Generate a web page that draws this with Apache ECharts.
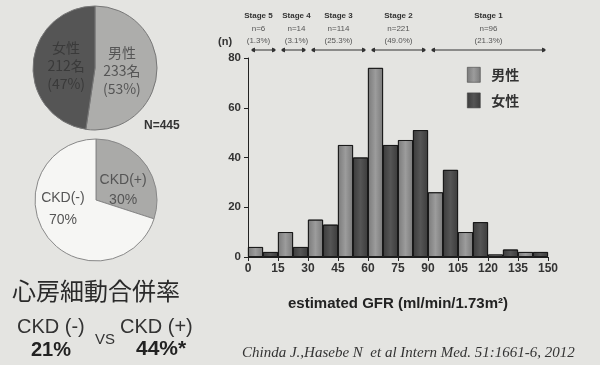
<!DOCTYPE html>
<html>
<head>
<meta charset="utf-8">
<script src="https://cdn.jsdelivr.net/npm/echarts@6/dist/echarts.min.js"></script>
<style>
html, body { margin: 0; padding: 0; background: #e4e4e1; }
#chart { width: 600px; height: 365px; }
</style>
</head>
<body>
<div id="chart"></div>
<script>
// eGFR histogram, bins of 15, male / female counts
var binStarts = [0, 15, 30, 45, 60, 75, 90, 105, 120, 135];
var maleCounts = [4, 10, 15, 45, 76, 47, 26, 10, 1, 2];
var femaleCounts = [2, 4, 13, 40, 45, 51, 35, 14, 3, 2];
var xTicks = [0, 15, 30, 45, 60, 75, 90, 105, 120, 135, 150];
var yTicks = [0, 20, 40, 60, 80];

var stageNames = ['Stage 5', 'Stage 4', 'Stage 3', 'Stage 2', 'Stage 1'];
var stageN = ['n=6', 'n=14', 'n=114', 'n=221', 'n=96'];
var stagePct = ['(1.3%)', '(3.1%)', '(25.3%)', '(49.0%)', '(21.3%)'];
var stageFrom = [0, 15, 30, 60, 90];
var stageTo = [15, 30, 60, 90, 150];

var sexNames = ['男性', '女性'];
var sexCounts = [233, 212];
var sexPct = ['53%', '47%'];
var ckdNames = ['CKD(+)', 'CKD(-)'];
var ckdPct = [30, 70];

var sansFont = '"Liberation Sans", Arial, sans-serif';
var cjkFont = '"Noto Sans CJK JP", sans-serif';

var maleColor = new echarts.graphic.LinearGradient(0, 0, 1, 0, [
    {offset: 0, color: '#7a7a7a'},
    {offset: 0.5, color: '#9c9c9c'},
    {offset: 1, color: '#7a7a7a'}
]);
var femaleColor = new echarts.graphic.LinearGradient(0, 0, 1, 0, [
    {offset: 0, color: '#3c3c3c'},
    {offset: 0.5, color: '#555555'},
    {offset: 1, color: '#3c3c3c'}
]);

var halfBin = 7.5;

var option = {
    backgroundColor: '#e4e4e1',
    animation: false,
    legend: {
        data: sexNames,
        orient: 'vertical',
        left: 462,
        top: 62,
        itemWidth: 13,
        itemHeight: 15,
        itemGap: 10,
        icon: 'rect',
        itemStyle: {borderColor: '#444', borderWidth: 0.6},
        textStyle: {fontFamily: cjkFont, fontSize: 14, fontWeight: 'bold', color: '#333', padding: [0, 0, 0, 6]}
    },
    grid: {left: 248, right: 52, top: 58, bottom: 108},
    xAxis: {
        type: 'value',
        min: xTicks[0],
        max: xTicks[xTicks.length - 1],
        interval: 15,
        name: 'estimated GFR (ml/min/1.73m²)',
        nameLocation: 'middle',
        nameGap: 39,
        nameTextStyle: {fontFamily: sansFont, fontSize: 15, fontWeight: 'bold', color: '#222'},
        axisLine: {lineStyle: {color: '#222', width: 1}},
        axisTick: {show: true, length: 4, lineStyle: {color: '#222'}},
        axisLabel: {fontFamily: sansFont, fontSize: 12, fontWeight: 'bold', color: '#333', margin: 6},
        splitLine: {show: false}
    },
    yAxis: {
        type: 'value',
        min: yTicks[0],
        max: yTicks[yTicks.length - 1],
        interval: 20,
        axisLine: {show: true, lineStyle: {color: '#222', width: 1}},
        axisTick: {show: true, length: 4, lineStyle: {color: '#222'}},
        axisLabel: {fontFamily: sansFont, fontSize: 11.5, fontWeight: 'bold', color: '#333', margin: 7},
        splitLine: {show: false}
    },
    series: [
        {
            name: sexNames[0],
            type: 'bar',
            barWidth: 15,
            barGap: '-100%',
            itemStyle: {color: maleColor, borderColor: '#111', borderWidth: 0.8},
            data: binStarts.map(function (b, i) { return [b + halfBin / 2, maleCounts[i]]; })
        },
        {
            name: sexNames[1],
            type: 'bar',
            barWidth: 15,
            barGap: '-100%',
            itemStyle: {color: femaleColor, borderColor: '#111', borderWidth: 0.8},
            data: binStarts.map(function (b, i) { return [b + halfBin * 1.5, femaleCounts[i]]; })
        },
        {
            type: 'pie',
            center: [95, 68],
            radius: 62,
            startAngle: 90,
            silent: true,
            itemStyle: {borderColor: '#777', borderWidth: 1},
            label: {
                position: 'inside',
                fontFamily: cjkFont,
                fontSize: 14,
                lineHeight: 18,
                formatter: function (p) {
                    return sexNames[p.dataIndex] + '\n' + sexCounts[p.dataIndex] + '名\n(' + sexPct[p.dataIndex] + ')';
                }
            },
            data: [
                {name: 'm', value: sexCounts[0], itemStyle: {color: '#adadab'},
                    label: {color: '#555', padding: [0, 14, 0, 0]}},
                {name: 'f', value: sexCounts[1], itemStyle: {color: '#555555'},
                    label: {color: '#3a3a3a', padding: [6, 0, 0, 10]}}
            ]
        },
        {
            type: 'pie',
            center: [96, 200],
            radius: 61,
            startAngle: 90,
            silent: true,
            itemStyle: {borderColor: '#888', borderWidth: 1},
            label: {
                position: 'inside',
                fontFamily: sansFont,
                fontSize: 14,
                lineHeight: 20,
                color: '#555'
            },
            data: [
                {name: 'ckdp', value: ckdPct[0], itemStyle: {color: '#aaaaa8'},
                    label: {formatter: function () { return '\n' + ckdNames[0] + '\n' + ckdPct[0] + '%'; }}},
                {name: 'ckdn', value: ckdPct[1], itemStyle: {color: '#f6f6f4'},
                    label: {padding: [0, 12, 0, 0], lineHeight: 22,
                        formatter: function () { return ckdNames[1] + '\n' + ckdPct[1] + '%\n '; }}}
            ]
        }
    ]
};

var chart = echarts.init(document.getElementById('chart'));
chart.setOption(option);

var texts = [
    {type: 'text', left: 218, top: 36, style: {text: '(n)', font: 'bold 11px ' + sansFont, fill: '#333'}},
    {type: 'text', left: 144, top: 120, style: {text: 'N=445', font: 'bold 12px ' + sansFont, fill: '#333'}},
    {type: 'text', left: 12, top: 279, style: {text: '心房細動合併率', font: '24px ' + cjkFont, fill: '#2a2a2a'}},
    {type: 'text', left: 17, top: 317, style: {text: 'CKD (-)', font: '20px ' + sansFont, fill: '#333'}},
    {type: 'text', left: 31, top: 340, style: {text: '21%', font: 'bold 20px ' + sansFont, fill: '#222'}},
    {type: 'text', left: 95, top: 332, style: {text: 'VS', font: '15px ' + sansFont, fill: '#333'}},
    {type: 'text', left: 120, top: 317, style: {text: 'CKD (+)', font: '20px ' + sansFont, fill: '#333'}},
    {type: 'text', left: 136, top: 339, style: {text: '44%*', font: 'bold 21px ' + sansFont, fill: '#222'}},
    {type: 'text', left: 242, top: 346, style: {text: 'Chinda J.,Hasebe N  et al Intern Med. 51:1661-6, 2012', font: 'italic 15px "Liberation Serif", serif', fill: '#333'}}
];

// small nudges so the two narrow stage captions do not collide
var captionShift = [-5, 3, 0, 0, 0];
var lineY = 50;
stageFrom.forEach(function (a, i) {
    var x0 = chart.convertToPixel({xAxisIndex: 0}, a) + 4;
    var x1 = chart.convertToPixel({xAxisIndex: 0}, stageTo[i]) - 3;
    var cx = (x0 + x1) / 2 + captionShift[i];
    texts.push({type: 'line', shape: {x1: x0, y1: lineY, x2: x1, y2: lineY}, style: {stroke: '#333', lineWidth: 1}});
    texts.push({type: 'circle', shape: {cx: x0 + 1.5, cy: lineY, r: 1.8}, style: {fill: '#333'}});
    texts.push({type: 'circle', shape: {cx: x1 - 1.5, cy: lineY, r: 1.8}, style: {fill: '#333'}});
    texts.push({type: 'polygon', shape: {points: [[x1 - 3, lineY - 2.5], [x1 + 1, lineY], [x1 - 3, lineY + 2.5]]}, style: {fill: '#333'}});
    texts.push({type: 'polygon', shape: {points: [[x0 + 3, lineY - 2.5], [x0 - 1, lineY], [x0 + 3, lineY + 2.5]]}, style: {fill: '#333'}});
    texts.push({type: 'text', x: cx, y: 16, style: {text: stageNames[i], font: 'bold 8px ' + sansFont, fill: '#333', textAlign: 'center', textVerticalAlign: 'middle'}});
    texts.push({type: 'text', x: cx, y: 29, style: {text: stageN[i], font: '8px ' + sansFont, fill: '#555', textAlign: 'center', textVerticalAlign: 'middle'}});
    texts.push({type: 'text', x: cx, y: 41, style: {text: stagePct[i], font: '8px ' + sansFont, fill: '#555', textAlign: 'center', textVerticalAlign: 'middle'}});
});

chart.setOption({graphic: texts});
</script>
</body>
</html>
